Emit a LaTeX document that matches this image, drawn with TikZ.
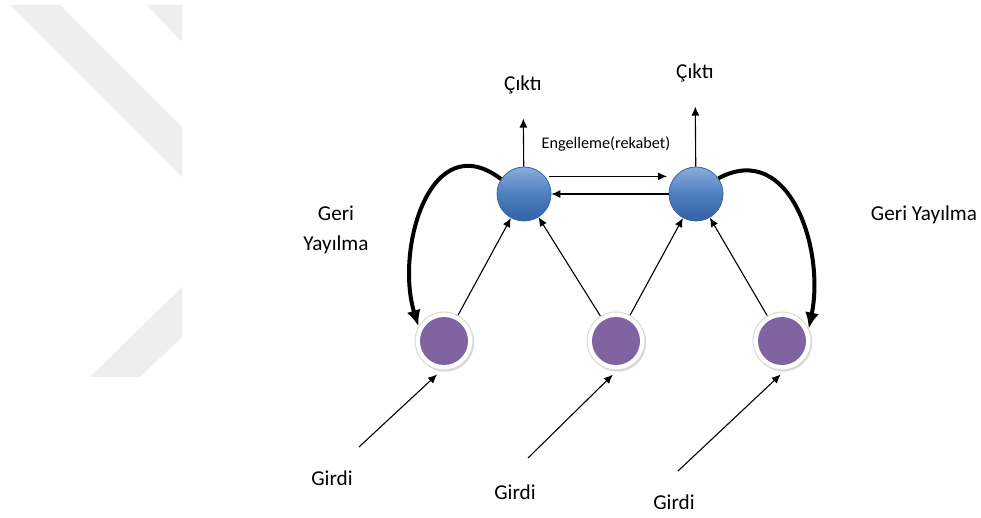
\documentclass[tikz,border=0pt]{standalone}
\usepackage{fontspec}
\setmainfont{Carlito}
\usetikzlibrary{arrows.meta,shadows}

\definecolor{wmgray}{HTML}{EEEEEE}
\definecolor{neurtop}{HTML}{8AADDD}
\definecolor{neurmid}{HTML}{4D7EC0}
\definecolor{neurbot}{HTML}{3463A6}
\definecolor{neuredge}{HTML}{3A659C}
\definecolor{inpurple}{HTML}{8064A2}

\tikzset{
  neuron/.style={circle, minimum size=27pt, inner sep=0pt, draw=neuredge, line width=0.4pt,
    top color=neurtop, bottom color=neurbot, middle color=neurmid},
  inunit/.style={circle, minimum size=29pt, inner sep=0pt, fill=white, draw=gray!30, line width=0.5pt,
    drop shadow={fill=gray!60, opacity=0.5, shadow xshift=0.6pt, shadow yshift=-0.8pt},
    path picture={\fill[inpurple] (path picture bounding box.center) circle (12pt);}},
  arr/.style={-{Latex[length=4.5pt,width=4pt]}, line width=0.55pt},
  backarr/.style={-{Latex[length=8pt,width=7pt]}, line width=2pt},
  lbl/.style={font=\fontsize{10.6}{15}\selectfont, inner sep=1pt},
}

\begin{document}
\begin{tikzpicture}[x=0.5pt, y=-0.5pt]
    \useasboundingbox (0,0) rectangle (981,518);

    % Watermark bands
    \fill[wmgray] (10,5) -- (60,5) -- (182,127) -- (182,177) -- cycle;
    \fill[wmgray] (147,5) -- (182,5) -- (182,42) -- cycle;
    \fill[wmgray] (90,377) -- (140,377) -- (182,337) -- (182,287) -- cycle;

    % Output units and input units
    \node[neuron] (b1) at (524,194) {};
    \node[neuron] (b2) at (696,194) {};
    \foreach \x/\n in {444/1, 616/2, 782/3} {
        \node[inunit] (p\n) at (\x,341) {};
    }

    % Outputs
    \node[lbl] (out1) at (523,85) {Çıktı};
    \node[lbl] (out2) at (695,73) {Çıktı};
    \draw[arr, shorten >=11pt] (b1) -- (out1);
    \draw[arr, shorten >=11pt] (b2) -- (out2);

    % Inhibition between the output units
    \draw[arr, shorten <=2pt, shorten >=4pt] (b1.40) -- (b2.140);
    \draw[arr] (b2.west) -- (b1.east);
    \node[font=\fontsize{8.1}{10}\selectfont] (inh) at (606,144) {Engelleme(rekabet)};

    % Connections from the input units
    \draw[arr] (p1) -- (b1);
    \draw[arr] (p2) -- (b1);
    \draw[arr] (p2) -- (b2);
    \draw[arr] (p3) -- (b2);

    % External inputs
    \foreach \n/\x/\y in {1/359/447, 2/528/458, 3/678/471} {
        \coordinate (s\n) at (\x,\y);
    }
    \draw[arr, shorten >=3pt] (s1) -- (p1.265);
    \draw[arr, shorten >=3pt] (s2) -- (p2.272);
    \draw[arr, shorten >=3pt] (s3) -- (p3.276);
    \foreach \n/\x/\y in {1/332/478, 2/515/492, 3/674/502} {
        \node[lbl] (in\n) at (\x,\y) {Girdi};
    }

    % Back propagation loops
    \draw[backarr] (b1.147) .. controls (430,125) and (395,250) .. (p1.150);
    \draw[backarr] (b2.35) .. controls (790,140) and (825,250) .. (p3.25);
    \node[lbl, align=center] (bp1) at (336,230) {Geri\\Yayılma};
    \node[lbl] (bp2) at (924,215) {Geri Yayılma};
\end{tikzpicture}
\end{document}
